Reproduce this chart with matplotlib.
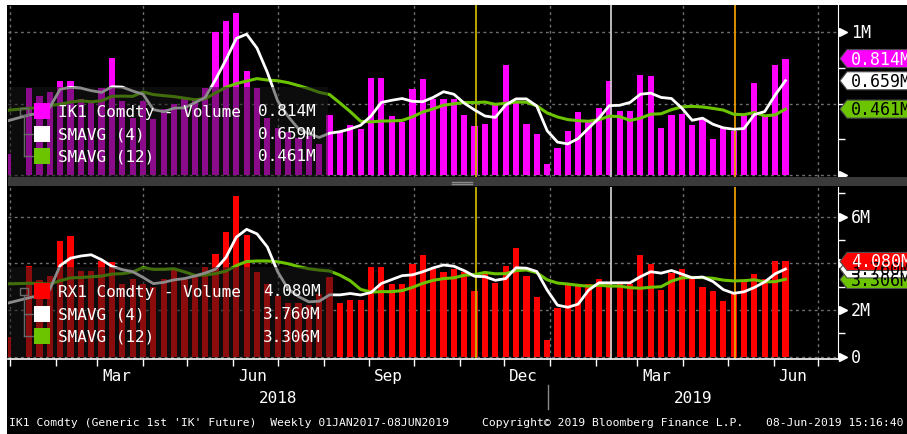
import numpy as np
import pandas as pd
import matplotlib
matplotlib.use('Agg')
import matplotlib.pyplot as plt
from matplotlib.patches import Rectangle, Polygon
from matplotlib.lines import Line2D
from matplotlib.transforms import blended_transform_factory
from datetime import datetime

W, H = 907, 435

# weekly volume bars (millions of contracts), first week 31DEC2017, 2nd week has no print
week_start = '2017-12-31'
n_weeks = 76

ik_vol = [0.15, np.nan, 0.61, 0.55, 0.58, 0.66, 0.66, 0.53, 0.51, 0.61,
          0.82, 0.52, 0.40, 0.52, 0.39, 0.46, 0.50, 0.53, 0.53, 0.61,
          1.00, 1.08, 1.13, 0.73, 0.61, 0.40, 0.33, 0.30, 0.26, 0.27,
          0.22, 0.42, 0.30, 0.35, 0.32, 0.68, 0.68, 0.41, 0.37, 0.60,
          0.67, 0.53, 0.53, 0.53, 0.42, 0.34, 0.36, 0.49, 0.77, 0.51,
          0.36, 0.29, 0.08, 0.19, 0.31, 0.44, 0.37, 0.47, 0.66, 0.45,
          0.45, 0.70, 0.69, 0.33, 0.42, 0.43, 0.35, 0.39, 0.25, 0.33,
          0.31, 0.41, 0.64, 0.415, 0.77, 0.814]

rx_vol = [0.83, np.nan, 3.90, 3.30, 3.47, 4.94, 5.16, 3.68, 3.68, 4.09,
          4.04, 3.11, 3.33, 3.11, 2.97, 3.33, 3.76, 3.33, 3.40, 3.85,
          4.40, 5.35, 6.87, 5.21, 3.61, 3.11, 2.60, 2.30, 2.30, 2.20,
          2.70, 3.40, 2.29, 2.44, 2.44, 3.83, 3.83, 3.11, 3.11, 3.97,
          4.37, 3.76, 3.61, 3.76, 3.61, 2.80, 3.54, 3.14, 3.90, 4.66,
          3.47, 2.57, 0.72, 2.07, 3.11, 3.11, 3.11, 3.33, 3.11, 3.11,
          3.11, 4.37, 3.97, 2.86, 3.57, 3.76, 3.33, 3.00, 2.80, 2.37,
          2.69, 3.26, 3.54, 3.32, 4.08, 4.08]

# late-2017 weeks, only used to seed the moving averages
ik_prev = [0.45, 0.50, 0.40, 0.55, 0.48, 0.42, 0.60, 0.52, 0.45, 0.50, 0.42]
rx_prev = [3.60, 3.40, 3.80, 3.20, 3.70, 3.50, 3.30, 3.74, 3.00, 2.90, 2.47]

ik_legend = ['IK1 Comdty - Volume', 'SMAVG (4)', 'SMAVG (12)']
ik_last = ['0.814M', '0.659M', '0.461M']
rx_legend = ['RX1 Comdty - Volume', 'SMAVG (4)', 'SMAVG (12)']
rx_last = ['4.080M', '3.760M', '3.306M']

events = ['2018-11-12', '2019-02-11', '2019-05-06']
event_colors = ['#c8b400', '#c8c8c8', '#e89a00']

month_labels = [('2018-03-14', 'Mar'), ('2018-06-14', 'Jun'), ('2018-09-14', 'Sep'),
                ('2018-12-14', 'Dec'), ('2019-03-14', 'Mar'), ('2019-06-14', 'Jun')]

MONO = 'DejaVu Sans Mono'
FS = 11.5
GREEN = '#6cc400'
GRID = '#707070'

weeks = pd.date_range(week_start, periods=n_weeks, freq='7D')
quarters = pd.date_range('2018-01-01', '2019-07-01', freq='QS')
x0, x1 = datetime(2017, 12, 30, 19), datetime(2019, 7, 14, 12)


def pix(x, y):
    return x / W, 1 - y / H


def sma(prev, vals, n):
    s = pd.Series(list(prev) + list(vals), dtype=float)
    avg = s.dropna().rolling(n).mean().reindex(s.index)
    return avg.values[len(prev):]


fig = plt.figure(figsize=(W / 100, H / 100), dpi=100, facecolor='black')
ax1 = fig.add_axes([8 / W, 1 - 178 / H, 830 / W, 172 / H])
ax2 = fig.add_axes([8 / W, 1 - 360 / H, 830 / W, 172 / H])


def panel(ax, prev, vol, bar_col, ylim, grid_y, arrows, labels, minors):
    ax.set_facecolor('black')
    ax.set_xlim(x0, x1)
    ax.set_ylim(*ylim)
    for d in quarters:
        ax.axvline(d, color=GRID, lw=1, ls=(0, (2, 2.5)), zorder=0)
    for v in grid_y:
        ax.axhline(v, color=GRID, lw=1, ls=(0, (2, 2.5)), zorder=0)
    ax.bar(weeks, vol, width=4.2, color=bar_col, zorder=1)
    for d, c in zip(events, event_colors):
        ax.axvline(pd.Timestamp(d), color=c, lw=1.3, zorder=2)
    s4 = sma(prev, vol, 4)
    s12 = sma(prev, vol, 12)
    m = ~np.isnan(s4)
    ax.plot(weeks[m], s12[m], color=GREEN, lw=2.2, zorder=3)
    ax.plot(weeks[m], s4[m], color='white', lw=2.0, zorder=4)

    for sp in ax.spines.values():
        sp.set_visible(False)
    ax.spines['right'].set_visible(True)
    ax.spines['right'].set_color('white')
    ax.yaxis.tick_right()
    ax.set_yticks([])
    ax.set_yticks(minors, minor=True)
    ax.tick_params(axis='y', which='minor', right=True, length=5, width=1,
                   color='white', labelright=False)
    ax.set_xticks([])

    tr = blended_transform_factory(ax.transAxes, ax.transData)
    ax.plot([1 + 5 / 830] * len(arrows), arrows, ls='none', marker='>', ms=6,
            color='white', transform=tr, clip_on=False, zorder=5)
    for v, t in labels:
        ax.text(1 + 13 / 830, v, t, transform=tr, color='white', fontsize=FS + 0.5,
                family=MONO, va='center', ha='left')


panel(ax1, ik_prev, ik_vol, '#ff00ff', (-0.014, 1.189), [0, 0.5, 1.0],
      [0, 1.0], [(1.0, '1M')], [0.25, 0.5, 0.75])
panel(ax2, rx_prev, rx_vol, '#ff0000', (-0.098, 7.268), [0, 2, 4, 6],
      [0, 2, 4, 6], [(0, '0'), (2, '2M'), (4, '4M'), (6, '6M')], [1, 3, 5, 7])

# x axis of the lower panel
ax2.spines['bottom'].set_visible(True)
ax2.spines['bottom'].set_color('white')
ax2.spines['bottom'].set_linewidth(1.2)
ax2.set_xticks(pd.date_range('2018-01-01', '2019-07-01', freq='MS'))
ax2.tick_params(axis='x', direction='out', length=5, width=1, color='white', labelbottom=False)
trx = blended_transform_factory(ax2.transData, ax2.transAxes)
for d, t in month_labels:
    ax2.text(pd.Timestamp(d), -17 / 172, t, transform=trx, color='white', fontsize=FS,
             family=MONO, ha='center', va='center')

fig.text(*pix(278, 399), '2018', color='white', fontsize=FS, family=MONO, ha='center', va='center')
fig.text(*pix(693, 399), '2019', color='white', fontsize=FS, family=MONO, ha='center', va='center')
fig.add_artist(Line2D([548 / W] * 2, [1 - 386 / H, 1 - 410 / H], color='#8a8a8a', lw=1))

# white frame strips and panel separator
fig.add_artist(Rectangle(pix(0, 6), 1, 6 / H, color='white', lw=0))
fig.add_artist(Rectangle((0, 0), 7 / W, 1, color='white', lw=0))
fig.add_artist(Rectangle(pix(8, 187), (W - 8) / W, 9 / H, color='#3a3a3a', lw=0))
for yy in (182.5, 185):
    fig.add_artist(Line2D([452 / W, 472 / W], [1 - yy / H] * 2, color='#8a8a8a', lw=1))


def legend(top, right_x, box_w, names, vals, bar_col):
    fig.add_artist(Rectangle(pix(8, top + 90), box_w / W, 90 / H,
                             facecolor='#181818', alpha=0.5, lw=0, zorder=5))
    rows = [top + 24, top + 47, top + 69]
    cols = [bar_col, 'white', GREEN]
    fig.add_artist(Rectangle(pix(19.5, rows[0] + 3.5), 8 / W, 7 / H, fill=False,
                             edgecolor='#6a6a6a', lw=1, zorder=6))
    fig.add_artist(Line2D([23.5 / W] * 2, [1 - (rows[0] + 4) / H, 1 - rows[2] / H],
                          color='#6a6a6a', lw=1, zorder=6))
    for r in rows[1:]:
        fig.add_artist(Line2D([23.5 / W, 33 / W], [1 - r / H] * 2, color='#6a6a6a', lw=1, zorder=6))
    for r, c, n, v in zip(rows, cols, names, vals):
        fig.add_artist(Rectangle(pix(34, r + 8), 16 / W, 16 / H, color=c, lw=0, zorder=6))
        fig.text(*pix(58, r), n, color='white', fontsize=FS, family=MONO, va='center', zorder=7)
        fig.text(*pix(right_x, r), v, color='white', fontsize=FS, family=MONO,
                 va='center', ha='right', zorder=7)


legend(88, 316, 320, ik_legend, ik_last, '#ff00ff')
legend(268, 321, 325, rx_legend, rx_last, '#ff0000')


def tag(ax, value, text, face, txt_col):
    yd = ax.transData.transform((ax.get_xlim()[0], value))[1]
    yc = H - yd
    pts = [(840, yc), (847, yc - 9), (912, yc - 9), (912, yc + 9), (847, yc + 9)]
    fig.add_artist(Polygon([pix(x, y) for x, y in pts], closed=True, facecolor=face,
                           edgecolor='#505050', lw=0.8, zorder=8))
    fig.text(*pix(851, yc), text, color=txt_col, fontsize=FS + 0.5, family=MONO,
             va='center', ha='left', zorder=9)


for ax, vals, faces, tcols in [
        (ax1, ik_last, ['#ff00ff', 'white', GREEN], ['white', 'black', 'black']),
        (ax2, rx_last, ['#ff0000', 'white', GREEN], ['white', 'black', 'black'])]:
    for k in (2, 1, 0):
        tag(ax, float(vals[k][:-1]), vals[k], faces[k], tcols[k])

# footer
fig.text(*pix(9, 423), "IK1 Comdty (Generic 1st 'IK' Future)  Weekly 01JAN2017-08JUN2019",
         color='white', fontsize=8.2, family=MONO, va='center')
fig.text(*pix(482, 423), 'Copyright\u00a9 2019 Bloomberg Finance L.P.',
         color='white', fontsize=8.2, family=MONO, va='center')
fig.text(*pix(766, 423), '08-Jun-2019 15:16:40',
         color='white', fontsize=8.2, family=MONO, va='center')

fig.savefig('out.png', dpi=100, facecolor='black')
